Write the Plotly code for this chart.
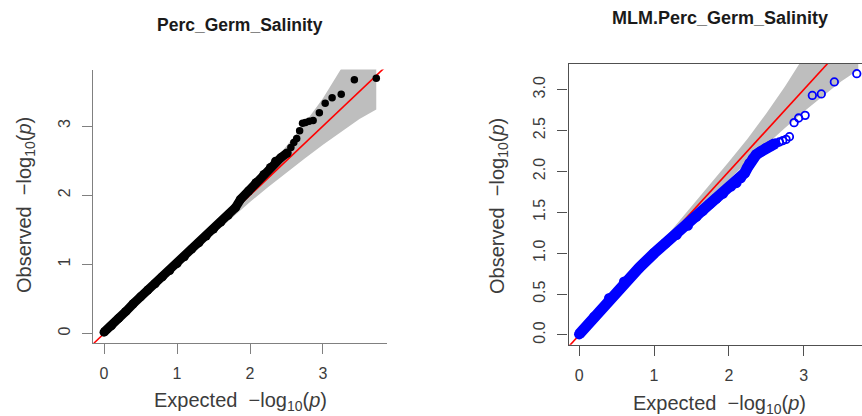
import plotly.graph_objects as go

# ---------------- data ----------------
# Left panel: Perc_Germ_Salinity (filled black dots)
left_dense_exp = [0.00, 0.10, 0.20, 0.30, 0.40, 0.50, 0.60, 0.70, 0.80, 0.90, 1.00,
                  1.10, 1.20, 1.30, 1.40, 1.50, 1.60, 1.70, 1.80, 1.87, 1.98, 2.08,
                  2.19, 2.28, 2.35, 2.42, 2.51]
left_dense_obs = [0.02, 0.11, 0.22, 0.32, 0.43, 0.53, 0.63, 0.72, 0.82, 0.91, 1.01,
                  1.11, 1.22, 1.31, 1.41, 1.51, 1.61, 1.71, 1.82, 1.94, 2.06, 2.18,
                  2.30, 2.40, 2.49, 2.54, 2.61]
left_tail_exp = [2.56, 2.60, 2.64, 2.68, 2.72, 2.76, 2.81, 2.865, 2.95, 3.03, 3.125, 3.25, 3.43, 3.73]
left_tail_obs = [2.69, 2.76, 2.82, 2.93, 3.04, 3.05, 3.07, 3.08, 3.19, 3.33, 3.41, 3.46, 3.67, 3.69]

# Right panel: MLM.Perc_Germ_Salinity (open blue circles)
right_dense_exp = [0.00, 0.20, 0.40, 0.60, 0.80, 1.00, 1.15, 1.30, 1.45, 1.565, 1.65, 1.743,
                   1.83, 1.92, 2.03, 2.10, 2.16, 2.21, 2.25, 2.276, 2.32, 2.365, 2.43, 2.50,
                   2.565, 2.62]
right_dense_obs = [0.01, 0.22, 0.45, 0.65, 0.82, 1.00, 1.12, 1.225, 1.34, 1.45, 1.52, 1.60,
                   1.67, 1.73, 1.82, 1.86, 1.92, 1.98, 2.05, 2.10, 2.156, 2.205, 2.245, 2.286,
                   2.318, 2.343]
right_tail_exp = [2.676, 2.72, 2.765, 2.81, 2.872, 2.933, 3.02, 3.116, 3.236, 3.41, 3.71]
right_tail_obs = [2.36, 2.376, 2.392, 2.425, 2.597, 2.654, 2.686, 2.93, 2.948, 3.095, 3.196]

# 95% confidence band (shared shape), read from the grey polygons
band_exp = [0.00, 0.50, 1.00, 1.25, 1.50, 1.75, 2.00, 2.25, 2.50, 2.75, 3.00, 3.25, 3.50, 3.73]
band_up  = [0.01, 0.52, 1.04, 1.30, 1.57, 1.84, 2.12, 2.40, 2.71, 3.04, 3.40, 3.83, 4.35, 5.00]
band_lo  = [0.00, 0.49, 0.97, 1.21, 1.44, 1.67, 1.90, 2.12, 2.33, 2.53, 2.73, 2.92, 3.10, 3.24]

# y = x reference line end points
ref_line = [-0.5, 4.5]

left_xticks = [0, 1, 2, 3]
left_yticks = [0, 1, 2, 3]
right_xticks = [0, 1, 2, 3]
right_yticks = [0.0, 0.5, 1.0, 1.5, 2.0, 2.5, 3.0]

titles = ["Perc_Germ_Salinity", "MLM.Perc_Germ_Salinity"]
x_title = "Expected\u00a0\u00a0\u2212log<sub>10</sub>(<i>p</i>)"
y_title = "Observed\u00a0\u00a0\u2212log<sub>10</sub>(<i>p</i>)"

# ---------------- figure ----------------
W, H = 862, 416
FONT = "Liberation Sans, Arial, sans-serif"
TXT = "#3c3c3c"
GREY = "#bebebe"

fig = go.Figure()

band_x = band_exp + band_exp[::-1]
band_y = band_up + band_lo[::-1]

for xa, ya in [("x", "y"), ("x2", "y2")]:
    fig.add_trace(go.Scatter(x=band_x, y=band_y, fill="toself", fillcolor=GREY,
                             line=dict(width=0, color=GREY), mode="lines",
                             hoverinfo="skip", showlegend=False, xaxis=xa, yaxis=ya))

# red reference lines (under the points)
for xa, ya in [("x", "y"), ("x2", "y2")]:
    fig.add_trace(go.Scatter(x=ref_line, y=ref_line, mode="lines",
                             line=dict(color="#ff0000", width=1.6),
                             hoverinfo="skip", showlegend=False, xaxis=xa, yaxis=ya))

# left points
fig.add_trace(go.Scatter(x=left_dense_exp, y=left_dense_obs, mode="lines+markers",
                         line=dict(color="black", width=9),
                         marker=dict(color="black", size=9),
                         showlegend=False, xaxis="x", yaxis="y"))
fig.add_trace(go.Scatter(x=left_tail_exp, y=left_tail_obs, mode="markers",
                         marker=dict(color="black", size=7.5),
                         showlegend=False, xaxis="x", yaxis="y"))

# right points
fig.add_trace(go.Scatter(x=right_dense_exp, y=right_dense_obs, mode="lines+markers",
                         line=dict(color="#0000ff", width=11),
                         marker=dict(symbol="circle", color="#0000ff", size=10.5,
                                     line=dict(width=0)),
                         showlegend=False, xaxis="x2", yaxis="y2"))
fig.add_trace(go.Scatter(x=right_tail_exp, y=right_tail_obs, mode="markers",
                         marker=dict(symbol="circle-open", color="#0000ff", size=7.5,
                                     line=dict(width=1.8, color="#0000ff")),
                         showlegend=False, xaxis="x2", yaxis="y2"))

axis_common = dict(showgrid=False, zeroline=False, showline=True, ticks="outside",
                   ticklen=10, tickwidth=1.3, linewidth=1.3,
                   tickfont=dict(family=FONT, size=16, color=TXT))

fig.update_layout(
    width=W, height=H,
    margin=dict(l=0, r=0, t=0, b=0),
    paper_bgcolor="white", plot_bgcolor="white",
    xaxis=dict(domain=[93.3 / W, 387 / W], range=[-0.147, 3.877], anchor="y",
               tickvals=left_xticks, linecolor="#808080", tickcolor="#808080",
               ticklabelstandoff=6, **axis_common),
    yaxis=dict(domain=[1 - 343 / H, 1 - 69.5 / H], range=[-0.137, 3.817], anchor="x",
               tickvals=left_yticks, tickangle=-90, linecolor="#808080", tickcolor="#808080",
               ticklabelstandoff=6, **axis_common),
    xaxis2=dict(domain=[568.5 / W, 1.0], range=[-0.144, 3.78], anchor="y2",
                tickvals=right_xticks, linecolor="#505050", tickcolor="#505050",
                mirror=True, ticklabelstandoff=6, **axis_common),
    yaxis2=dict(domain=[1 - 344.7 / H, 1 - 63.7 / H], range=[-0.119, 3.318], anchor="x2",
                tickvals=right_yticks, tickformat=".1f", tickangle=-90,
                linecolor="#505050", tickcolor="#505050", ticklabelstandoff=6,
                **axis_common),
)

ann = [
    dict(text="<b>%s</b>" % titles[0], x=239.7 / W, y=1 - 24.7 / H, size=17.5),
    dict(text="<b>%s</b>" % titles[1], x=719.5 / W, y=1 - 17.5 / H, size=18),
]
for a in ann:
    s = a.pop("size")
    a.update(xref="paper", yref="paper", showarrow=False, xanchor="center", yanchor="middle",
             font=dict(family=FONT, size=s, color="#1a1a1a"))
axis_ann = [
    dict(text=x_title, x=240 / W, y=1 - 401 / H, textangle=0),
    dict(text=x_title, x=719 / W, y=1 - 404 / H, textangle=0),
    dict(text=y_title, x=25 / W, y=1 - 205 / H, textangle=-90),
    dict(text=y_title, x=498 / W, y=1 - 206 / H, textangle=-90),
]
for a in axis_ann:
    a.update(xref="paper", yref="paper", showarrow=False, xanchor="center", yanchor="middle",
             font=dict(family=FONT, size=20, color=TXT))
fig.update_layout(annotations=ann + axis_ann)

fig.write_html("out.html", config={"displayModeBar": False},
               post_script="document.body.style.margin='0';document.body.style.overflow='hidden';")
